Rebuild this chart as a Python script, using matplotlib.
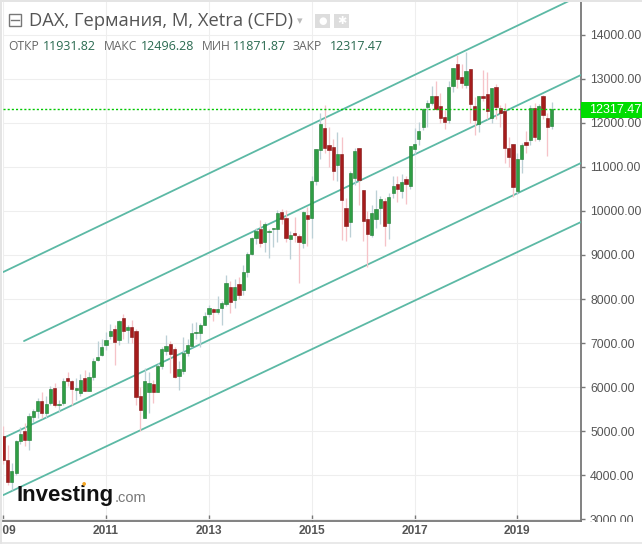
import matplotlib
matplotlib.use("Agg")
import matplotlib.pyplot as plt
from matplotlib.patches import Rectangle

W, H = 642, 544

opens = [4884,4340,3840,4050,4770,5000,4800,5320,5460,5680,5410,5640,
 5980,5590,5640,6200,6130,5930,5860,6200,5910,6230,6610,6730,
 6950,7160,7311,7068,7561,7295,7364,7266,5795,5289,5893,6068,
 5880,6484,6825,6970,6864,6250,6370,6766,6932,7220,7234,7409,
 7659,7780,7711,7795,7886,8280,7977,8333,8205,8607,9016,9393,
 9591,9302,9530,9584,9598,9984,9848,9357,9493,9439,9280,9909,
 9848,10689,11386,11893,11500,11455,11045,11295,10060,9757,10743,11425,
 10477,9811,9455,9825,10075,10234,9727,10416,10607,10461,10734,10568,
 11409,11630,11916,12357,12448,12614,12393,12143,12068,12848,13341,13039,
 12864,13234,12393,11977,12614,12659,12120,12818,12340,12273,11425,11516,
 10461,11182,11568,11607,12334,11630,12620,12120,11931.82]
highs = [5112,4682,4273,4800,5100,5182,5400,5500,5750,5880,5800,6030,
 6100,5700,6200,6340,6160,6200,6300,6390,6350,6650,7050,7100,
 7250,7440,7400,7530,7650,7400,7520,7320,6000,6430,6350,6170,
 6550,6900,7182,7050,6900,6600,7143,7090,7461,7480,7450,7700,
 7870,7790,8075,7950,8545,8420,8460,8500,8770,9060,9420,9620,
 9795,9750,9580,9620,10030,10050,10023,9550,9870,9470,10000,10090,
 10795,11420,12220,12409,11916,11630,11802,11689,10300,10900,11430,11430,
 10480,9990,10136,10477,10330,10300,10400,10800,10800,10830,10800,11480,
 11890,12030,12350,12530,12840,12950,12680,12300,12950,13250,13545,13340,
 13620,13234,12600,12620,13205,13150,12800,12890,12400,12450,11680,11530,
 11318,11550,11825,12400,12450,12440,12636,12220,12484]
lows = [4240,3773,3659,4000,4700,4650,4568,5200,5300,5300,5300,5600,
 5550,5430,5600,6030,5600,5700,5800,5900,5900,6150,6600,6700,
 6850,7100,6500,6950,7100,6990,7000,5600,5000,5364,5400,5636,
 5880,6400,6730,6320,6200,5932,6300,6700,6900,7100,6900,7400,
 7600,7500,7660,7420,7850,7682,7800,8000,8100,8500,9000,9250,
 9180,9075,8932,9180,9300,9700,9300,8909,9300,8364,9166,9200,
 9386,10590,11180,11318,11000,10700,10689,9340,9325,9416,10600,10136,
 9325,8734,9400,9614,9700,9200,9370,10300,10200,10300,10170,10500,
 11300,11500,11850,11900,12400,12300,12000,11870,12000,12700,12800,12800,
 12800,12000,11727,11802,12500,12100,12000,12100,11909,11091,11000,10325,
 10386,10864,11318,11500,11600,11600,12100,11257,11871.87]
closes = [4340,3840,4090,4770,4930,4800,5340,5460,5680,5400,5610,5950,
 5590,5610,6140,6130,5950,5970,6160,5900,6230,6590,6680,6910,
 7070,7270,7016,7507,7273,7370,7143,5766,5477,6143,6084,5880,
 6477,6857,6932,6750,6234,6416,6766,6961,7220,7257,7409,7614,
 7789,7711,7780,7909,8364,7939,8280,8090,8607,9023,9393,9545,
 9280,9698,9545,9590,9948,9818,9380,9455,9455,9302,9984,9811,
 10682,11402,11977,11425,11386,10916,11295,10250,9660,10857,11370,10705,
 9780,9477,9961,10040,10265,9660,10325,10575,10493,10652,10614,11477,
 11515,11825,12311,12448,12614,12318,12107,12030,12825,13243,12993,12902,
 13189,12425,12068,12620,12575,12280,12789,12357,12220,11439,11234,10539,
 11175,11493,11507,12341,11689,12386,12175,11916,12317.47]
channel_months = [[0,132.5],[4.83,134.85],[0,134.85],[0,134.85]]
channel_values = [[8614,14795],[7045,13091],[4841,11091],[3545,9750]]
year_ticks = [0,24,48,72,96,120]
year_labels = ["2009","2011","2013","2015","2017","2019"]
price_ticks = list(range(3000,15000,1000))
last_price = 12317.47
title = "DAX, Германия, M, Xetra (CFD)"
ohlc = [("ОТКР","11931.82"),("МАКС","12496.28"),("МИН","11871.87"),("ЗАКР","12317.47")]

plt.rcParams['font.family'] = ['Open Sans','DejaVu Sans']
fig = plt.figure(figsize=(W/100,H/100),dpi=100,facecolor='white')
L,R,T,B = 3,581,0,521
ax = fig.add_axes([L/W,1-B/H,(R-L)/W,(B-T)/H])
ax.set_xlim(-0.07,134.85)
ax.set_ylim(2955,14795)
ax.set_facecolor('white')
ax.grid(True,color='#eeeeee',lw=0.8)
ax.set_axisbelow(True)
for s in ['top','left']:
    ax.spines[s].set_visible(False)
for s in ['bottom','right']:
    ax.spines[s].set_color('#777777'); ax.spines[s].set_linewidth(1.3)
ax.yaxis.tick_right()
ax.set_yticks(price_ticks)
ax.set_yticklabels([f"{v}.00" for v in price_ticks],fontfamily='Liberation Sans',fontsize=8.8,color='#555555')
ax.set_xticks(year_ticks)
ax.set_xticklabels(year_labels,fontfamily='Liberation Sans',fontsize=8.6,color='#555555',fontweight='bold')
ax.tick_params(axis='y',length=3,width=1,color='#777777',pad=3.5)
ax.tick_params(axis='x',length=4,width=1,color='#777777',pad=3,direction='in')

for mx,vy in zip(channel_months,channel_values):
    ax.plot(mx,vy,color='#5cb9a5',lw=1.3,zorder=3,solid_capstyle='round')
for i,(o,h,l,c) in enumerate(zip(opens,highs,lows,closes)):
    up = c>=o
    ax.vlines(i,l,h,color='#bcd0d6' if up else '#f6c3c8',lw=0.95,zorder=4)
    ax.bar(i,max(abs(c-o),25),bottom=min(o,c),width=0.76,
           color='#2f9e44' if up else '#a51c1c',
           edgecolor='#1f7a33' if up else '#7f1414',linewidth=0.4,zorder=5)
ax.axhline(last_price,color='#00c800',lw=1,ls=(0,(1.5,1.5)),zorder=6)

def px(x,y): return x/W,1-y/H
def rect(x0,y0,x1,y1,fc,z,ec='none',lw=0):
    fig.add_artist(Rectangle((x0/W,1-y1/H),(x1-x0)/W,(y1-y0)/H,transform=fig.transFigure,fc=fc,ec=ec,lw=lw,zorder=z))
rect(583,522,642,544,'white',20)
rect(581,101.5,642,118,'#00dd00',21)
fig.text(*px(589.5,110),f"{last_price:.2f}",color='white',fontsize=9,family='Liberation Sans',va='center',zorder=22)
rect(0,541.5,642,544,'#e9e9e9',23)
rect(0,0,2,544,'#e4e4e4',23)
rect(0,0,642,1.5,'#e4e4e4',23)
rect(8.5,14,21.5,26,'white',24,ec='#777777',lw=1)
fig.add_artist(plt.Line2D([11/W,19/W],[1-20/H,1-20/H],color='#777777',lw=1,zorder=25))
fig.text(*px(29,21.5),title,fontsize=13.2,color='#555555',va='center',family=['Open Sans','DejaVu Sans'],zorder=24)
fig.text(*px(297,21),"▾",fontsize=8,color='#bbbbbb',va='center',ha='left',family='DejaVu Sans',zorder=24)
rect(315,14,330,28,'#dddddd',24)
rect(334,14,349,28,'#dddddd',24)
fig.text(*px(322.5,21),"●",fontsize=7,color='white',va='center',ha='center',family='DejaVu Sans',zorder=25)
fig.text(*px(341.5,21),"✱",fontsize=8,color='white',va='center',ha='center',family='DejaVu Sans',zorder=25)
xs = [(8,43),(104,141),(202,233),(293,330)]
for (a,b),(k,v) in zip(xs,ohlc):
    fig.text(*px(a,46),k,fontsize=8.7,color='#666666',va='center',family='Open Sans',zorder=24)
    fig.text(*px(b,46),v,fontsize=9,color='#2a6a50',va='center',family='Open Sans',zorder=24)
fig.text(*px(17,496),"Investing",fontsize=16,fontweight='bold',color='#111111',va='center',family='Liberation Sans',zorder=24)
fig.text(*px(115,498),".com",fontsize=10.5,color='#777777',va='center',family='Liberation Sans',zorder=24)
fig.text(*px(84,483),"●",fontsize=3.5,color='#f5a623',ha='center',va='center',family='DejaVu Sans',zorder=25)
fig.savefig("out.png",dpi=100)
